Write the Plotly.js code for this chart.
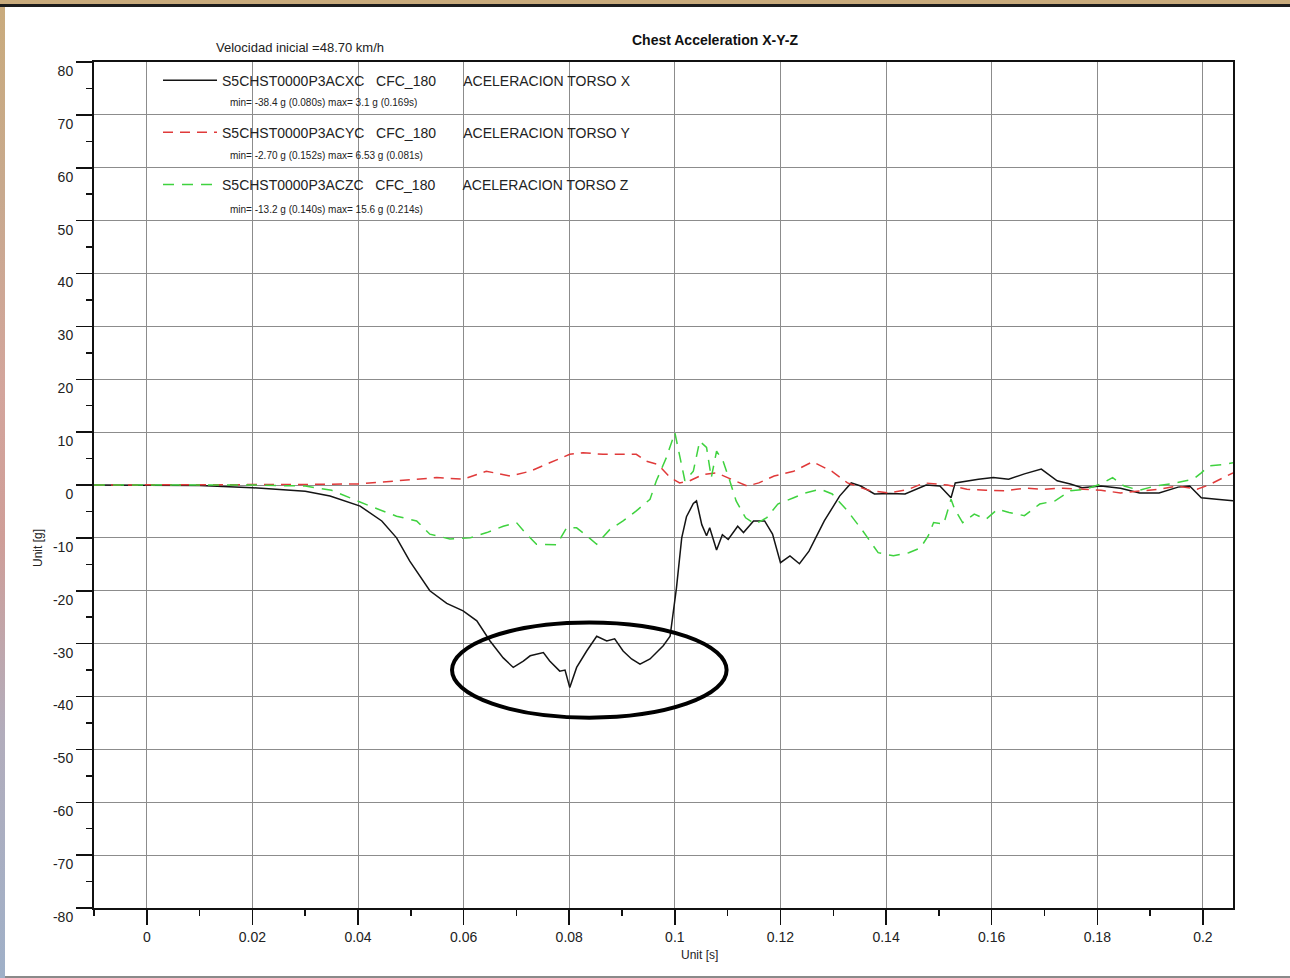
<!DOCTYPE html>
<html>
<head>
<meta charset="utf-8">
<script src="https://cdn.plot.ly/plotly-3.0.1.min.js"></script>
<style>
  html, body { margin: 0; padding: 0; }
  body {
    width: 1290px; height: 978px; position: relative; overflow: hidden;
    background: linear-gradient(to bottom, #c9ab7c 0%, #c8a98e 20%, #d3a59c 40%, #cf9e98 55%, #b2adbc 75%, #9fb0c8 100%);
  }
  #topline { position: absolute; left: 0; top: 4px; width: 1290px; height: 3px; background: #1c1c1c; }
  #chart { position: absolute; left: 5px; top: 7px; width: 1285px; height: 969px; background: #ffffff; }
  #bottomline { position: absolute; left: 5px; top: 976px; width: 1285px; height: 2px; background: #8a8a8a; }
</style>
</head>
<body>
<div id="topline"></div>
<div id="chart"></div>
<div id="bottomline"></div>
<script>
// ---------------- data ----------------
const seriesNames = [
  "S5CHST0000P3ACXC\u00a0\u00a0\u00a0CFC_180\u00a0\u00a0\u00a0\u00a0\u00a0\u00a0\u00a0ACELERACION TORSO X",
  "S5CHST0000P3ACYC\u00a0\u00a0\u00a0CFC_180\u00a0\u00a0\u00a0\u00a0\u00a0\u00a0\u00a0ACELERACION TORSO Y",
  "S5CHST0000P3ACZC\u00a0\u00a0\u00a0CFC_180\u00a0\u00a0\u00a0\u00a0\u00a0\u00a0\u00a0ACELERACION TORSO Z"
];
const seriesStats = [
  "min= -38.4 g (0.080s) max= 3.1 g (0.169s)",
  "min= -2.70 g (0.152s) max= 6.53 g (0.081s)",
  "min= -13.2 g (0.140s) max= 15.6 g (0.214s)"
];

const xTime = [-0.01,0.0,0.01,0.02,0.03,0.0347,0.0404,0.0445,0.0473,0.0498,0.0536,0.0568,0.0599,0.0625,0.065,0.0675,0.0694,0.0713,0.0726,0.0751,0.0763,0.0782,0.0792,0.0801,0.0814,0.0833,0.0852,0.0871,0.0886,0.0902,0.0918,0.0934,0.0953,0.0978,0.0991,0.1003,0.1013,0.1022,0.1035,0.1041,0.1051,0.106,0.1066,0.1079,0.109,0.1101,0.1119,0.113,0.1149,0.117,0.1185,0.12,0.1218,0.1236,0.1254,0.1283,0.1312,0.1334,0.1352,0.1378,0.1407,0.1436,0.1458,0.1476,0.1502,0.1523,0.1531,0.1553,0.1575,0.1603,0.1632,0.1662,0.1694,0.1724,0.1749,0.1771,0.1807,0.1844,0.188,0.1917,0.1953,0.1975,0.1997,0.2026,0.2057];
const xAccel = [0,0,-0.1,-0.5,-1.2,-2.1,-4.0,-6.8,-10.0,-14.4,-20.0,-22.4,-23.8,-25.7,-29.5,-32.7,-34.5,-33.3,-32.3,-31.7,-33.3,-35.2,-35.0,-38.3,-34.5,-31.4,-28.6,-29.5,-29.1,-31.4,-32.9,-33.9,-32.9,-30.4,-28.6,-19.5,-10.0,-6.0,-3.5,-3.0,-7.5,-9.6,-8.1,-12.3,-9.4,-10.3,-7.8,-9.0,-6.8,-6.8,-9.3,-14.7,-13.4,-14.9,-12.5,-6.8,-2.1,0.4,-0.2,-1.7,-1.6,-1.7,-0.8,0.0,-0.2,-2.4,0.4,0.8,1.1,1.4,1.1,2.1,3.0,0.8,0.2,-0.5,-0.2,-0.6,-1.5,-1.5,-0.4,-0.2,-2.4,-2.7,-3.0];

const yTime = [-0.01,0.0,0.02,0.03,0.04,0.0505,0.0549,0.0599,0.0643,0.0688,0.0726,0.0763,0.0801,0.0826,0.0864,0.0896,0.0927,0.0946,0.0968,0.0991,0.1009,0.1028,0.1054,0.1079,0.1098,0.1137,0.1159,0.1188,0.1225,0.1261,0.1297,0.1327,0.137,0.1407,0.1443,0.1472,0.1516,0.1553,0.1589,0.1625,0.1662,0.1699,0.1735,0.1771,0.1807,0.1844,0.188,0.1917,0.1953,0.1989,0.2011,0.2033,0.2057];
const yAccel = [0,0,0,0.1,0.2,1.1,1.4,1.1,2.6,1.7,2.6,4.2,5.8,6.1,5.8,5.8,5.8,4.5,3.9,1.4,0.4,0.8,2.0,2.3,1.5,-0.2,0.4,1.7,2.6,4.4,2.6,0.4,-1.1,-1.5,-0.8,0.4,0.0,-0.8,-1.0,-1.1,-0.6,-0.8,-0.6,-0.8,-1.0,-1.5,-1.1,-0.8,-0.2,-0.8,0.0,1.1,2.3];

const zTime = [-0.01,0.0,0.02,0.03,0.035,0.0423,0.0473,0.0511,0.0536,0.0574,0.0612,0.0644,0.0675,0.07,0.0719,0.0738,0.0776,0.0795,0.0814,0.0833,0.0852,0.0877,0.0902,0.0927,0.0953,0.0965,0.0984,0.1,0.1009,0.1019,0.1035,0.1047,0.106,0.1069,0.1079,0.1091,0.1104,0.1116,0.1134,0.1152,0.1174,0.1195,0.1225,0.1247,0.1276,0.1298,0.1327,0.1356,0.1385,0.1414,0.1443,0.1465,0.148,0.149,0.1509,0.1523,0.153,0.1545,0.1567,0.1589,0.1611,0.1633,0.1662,0.1691,0.172,0.1749,0.1778,0.1807,0.1829,0.1851,0.188,0.1909,0.1938,0.1967,0.1982,0.1997,0.2011,0.204,0.2057];
const zAccel = [0,0,0,-0.2,-1.0,-4.0,-5.9,-6.8,-9.3,-10.2,-10.0,-9.0,-7.8,-7.1,-9.3,-11.2,-11.3,-8.1,-8.1,-9.6,-11.2,-8.4,-6.8,-4.9,-2.7,0.8,5.2,9.9,5.8,0.8,2.6,8.3,7.1,1.4,6.4,4.6,0.8,-3.0,-6.2,-7.4,-6.2,-3.6,-2.4,-1.5,-0.8,-1.7,-4.9,-8.7,-12.8,-13.4,-12.8,-11.9,-9.6,-7.1,-7.4,-2.7,-4.6,-7.1,-5.5,-6.5,-4.6,-5.2,-5.8,-3.6,-3.0,-1.1,-0.8,0.2,1.4,-0.2,-1.0,-0.2,0.2,0.8,1.1,2.3,3.6,3.9,4.2];

const xTickVals = [0,0.02,0.04,0.06,0.08,0.1,0.12,0.14,0.16,0.18,0.2];
const xTickText = ["0","0.02","0.04","0.06","0.08","0.1","0.12","0.14","0.16","0.18","0.2"];
const yTickVals = [-80,-70,-60,-50,-40,-30,-20,-10,0,10,20,30,40,50,60,70,80];
const yTickText = ["-80","-70","-60","-50","-40","-30","-20","-10","0","10","20","30","40","50","60","70","80"];

// highlighted region (ellipse), data units
const highlight = {t0: 0.0578, t1: 0.1098, a0: -26.0, a1: -44.0};

// ---------------- figure ----------------
const FONT = '"Liberation Sans", Arial, Helvetica, sans-serif';
const traces = [
  {x: xTime, y: xAccel, name: seriesNames[0], type: 'scatter', mode: 'lines',
   line: {color: '#141414', width: 1.5}, legendgroup: 'a'},
  {x: yTime, y: yAccel, name: seriesNames[1], type: 'scatter', mode: 'lines',
   line: {color: '#e03a3a', width: 1.5, dash: '10px,7px'}, legendgroup: 'b'},
  {x: zTime, y: zAccel, name: seriesNames[2], type: 'scatter', mode: 'lines',
   line: {color: '#3fd23f', width: 1.5, dash: '11px,8px'}, legendgroup: 'c'}
];

const statY = [0.9527, 0.8889, 0.8262];
const annotations = seriesStats.map((s, i) => ({
  text: s, xref: 'paper', yref: 'paper', x: 0.1176, y: statY[i],
  xanchor: 'left', yanchor: 'middle', showarrow: false,
  font: {family: FONT, size: 10, color: '#222'}
}));
annotations.push({
  text: 'Velocidad inicial =48.70 km/h', xref: 'paper', yref: 'paper',
  x: 0.1809, y: 1.0177, xanchor: 'center', yanchor: 'middle', showarrow: false,
  font: {family: FONT, size: 13, color: '#222'}
});
annotations.push({
  text: 'Unit [s]', xref: 'paper', yref: 'paper', x: 0.532, y: -0.0556,
  xanchor: 'center', yanchor: 'middle', showarrow: false,
  font: {family: FONT, size: 12, color: '#222'}
});
annotations.push({
  text: 'Unit [g]', xref: 'paper', yref: 'paper', x: -0.0492, y: 0.4255,
  xanchor: 'center', yanchor: 'middle', showarrow: false, textangle: -90,
  font: {family: FONT, size: 12, color: '#222'}
});

const layout = {
  width: 1285, height: 969,
  paper_bgcolor: '#ffffff', plot_bgcolor: '#ffffff',
  margin: {l: 89, r: 57, t: 55, b: 68, pad: 0},
  font: {family: FONT, size: 14, color: '#222'},
  title: {text: '<b>Chest Acceleration X-Y-Z</b>', x: 0.5452, xref: 'paper', xanchor: 'center',
          y: 1 - 33/969, yref: 'container', yanchor: 'middle',
          font: {family: FONT, size: 14, color: '#111'}},
  showlegend: true,
  legend: {x: 0.0562, y: 0.997, xanchor: 'left', yanchor: 'top', bgcolor: 'rgba(0,0,0,0)',
           borderwidth: 0, itemwidth: 54, tracegroupgap: 31, traceorder: 'grouped',
           font: {family: FONT, size: 14, color: '#222'}, itemclick: false},
  xaxis: {range: [-0.01, 0.2057], tickvals: xTickVals, ticktext: xTickText, ticks: 'outside', ticklen: 15, tickwidth: 1.5,
          tickcolor: '#111', showgrid: true, gridcolor: '#8c8c8c', gridwidth: 1,
          zeroline: false, showline: true, linecolor: '#111', linewidth: 2, mirror: true,
          tickfont: {family: FONT, size: 14, color: '#222'},
          minor: {dtick: 0.01, tick0: 0, ticks: 'outside', ticklen: 6, tickcolor: '#111', showgrid: false}},
  yaxis: {range: [-80, 80], tickvals: yTickVals, ticktext: yTickText, ticks: 'outside', ticklen: 16, tickwidth: 1.5,
          tickcolor: '#111', showgrid: true, gridcolor: '#8c8c8c', gridwidth: 1,
          zeroline: false, showline: true, linecolor: '#111', linewidth: 2, mirror: true,
          ticklabelshift: 9,
          tickfont: {family: FONT, size: 14, color: '#222'},
          minor: {dtick: 5, tick0: 0, ticks: 'outside', ticklen: 6, tickcolor: '#111', showgrid: false}},
  shapes: [{type: 'circle', xref: 'x', yref: 'y', x0: highlight.t0, x1: highlight.t1,
            y0: highlight.a0, y1: highlight.a1, line: {color: '#000', width: 4}}],
  annotations: annotations
};

Plotly.newPlot('chart', traces, layout, {displayModeBar: false, staticPlot: true});
</script>
</body>
</html>
